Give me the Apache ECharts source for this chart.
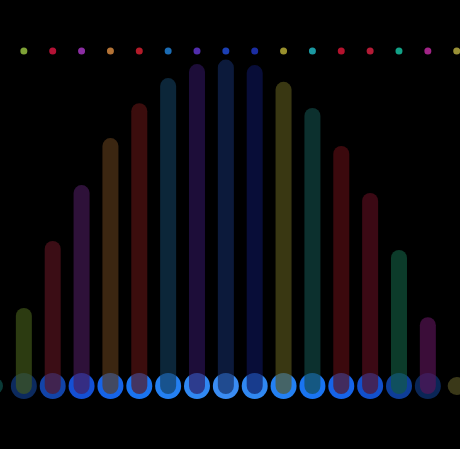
<!DOCTYPE html>
<html>
<head>
<meta charset="utf-8">
<script src="https://cdn.jsdelivr.net/npm/echarts@6/dist/echarts.min.js"></script>
<style>
  html, body { margin: 0; padding: 0; background: #000; overflow: hidden; }
  /* first slot sits just off the left edge, so the chart box starts a few px left of the page */
  #main { width: 466px; height: 449px; margin-left: -4.86px; }
</style>
</head>
<body>
<div id="main"></div>
<script>
var categories = ['0', '1', '2', '3', '4', '5', '6', '7', '8', '9', '10', '11', '12', '13', '14', '15', '16'];
// bar heights (first and last slot have no bar)
var barValues = [null, 25.1, 44.6, 60.9, 74.6, 84.8, 92.1, 96.2, 97.5, 95.9, 91.0, 83.4, 72.3, 58.6, 42.0, 22.4, null];
// small dots along the top
var dotValues = [null, 100, 100, 100, 100, 100, 100, 100, 100, 100, 100, 100, 100, 100, 100, 100, 100];
// circles along the bottom
var circleValues = [0, 0, 0, 0, 0, 0, 0, 0, 0, 0, 0, 0, 0, 0, 0, 0, 0];

var dotColors = ['#000000', '#8cb43c', '#c8143c', '#9a32b4', '#c8803c', '#c81e2e', '#1e78c8', '#5a32c0',
  '#1e46c8', '#1e32b4', '#aaa032', '#1eaab4', '#c81432', '#c81e3c', '#14b496', '#b42896', '#aaa03c'];
var barColors = ['#000000', '#435a1a', '#5a1420', '#461a58', '#5a3a1a', '#5a1414', '#123a58', '#2c1458',
  '#12285a', '#0c1456', '#58541c', '#124a46', '#5a0e14', '#5a0e1e', '#125a40', '#5a1458', '#000000'];
var circleColors = ['#0a3a36', '#0c2a5e', '#1244a8', '#1450d4', '#1664e8', '#1a74f0', '#2480f2', '#3088f2',
  '#3a8cf2', '#3088f2', '#2480f2', '#1a74f0', '#1664e8', '#1250cc', '#0e3e98', '#0a2656', '#3a3818'];
var circleSizes = [16, 26, 26, 26, 26, 26, 26, 26, 26, 26, 26, 26, 26, 26, 26, 26, 18];

var myChart = echarts.init(document.getElementById('main'));

var option = {
  backgroundColor: '#000',
  animation: false,
  grid: {
    left: 0,
    right: 4.3,
    top: 51,
    bottom: 55
  },
  xAxis: {
    type: 'category',
    data: categories,
    boundaryGap: false,
    show: false
  },
  yAxis: {
    type: 'value',
    min: 0,
    max: 100,
    show: false
  },
  series: [
    {
      name: 'circles',
      type: 'scatter',
      z: 1,
      symbolOffset: [0, -8],
      data: circleValues.map(function (v, i) {
        return {
          value: v,
          symbolSize: circleSizes[i],
          itemStyle: { color: circleColors[i], opacity: 1 }
        };
      })
    },
    {
      name: 'bars',
      type: 'bar',
      z: 2,
      barWidth: 16,
      data: barValues.map(function (v, i) {
        return {
          value: v,
          itemStyle: { color: barColors[i], opacity: 0.65, borderRadius: 8 }
        };
      })
    },
    {
      name: 'dots',
      type: 'scatter',
      z: 3,
      symbolSize: 7,
      data: dotValues.map(function (v, i) {
        return {
          value: v,
          itemStyle: { color: dotColors[i], opacity: 0.9 }
        };
      })
    }
  ]
};

myChart.setOption(option);
</script>
</body>
</html>
